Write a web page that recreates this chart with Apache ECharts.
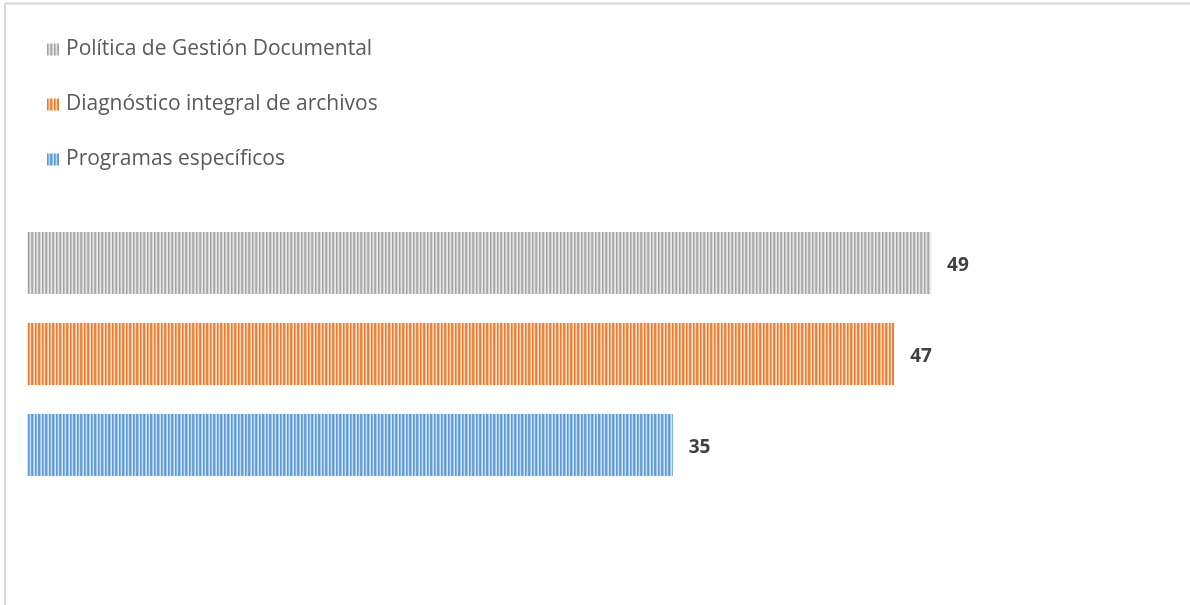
<!DOCTYPE html>
<html><head><meta charset="utf-8">
<script src="https://cdn.jsdelivr.net/npm/echarts@6/dist/echarts.min.js"></script>
<style>html,body{margin:0;padding:0;background:#fff}#c{width:1190px;height:605px}</style>
</head><body><div id="c"></div>
<script>
const seriesNames = ['Política de Gestión Documental', 'Diagnóstico integral de archivos', 'Programas específicos'];
const seriesValues = [49, 47, 35];
const category = [''];

function stripes(cols) {
  const c = document.createElement('canvas');
  c.width = cols.length; c.height = 4;
  const g = c.getContext('2d');
  cols.forEach((col, i) => { g.fillStyle = col; g.fillRect(i, 0, 1, 4); });
  return { image: c, repeat: 'repeat' };
}
const palettes = [
  ['#a3a3a3', '#c4c4c4', '#e4e4e4', '#b8b8b8', '#a8a8a8', '#d6d6d6', '#eaeaea'],
  ['#ec7a2c', '#f2a46e', '#fbd9c0', '#ef8c48', '#ec7d31', '#f6b98e', '#fde2cf'],
  ['#5a99d3', '#86b4e0', '#c6dcf2', '#6ea6d9', '#5b9bd5', '#a3c6ea', '#d3e5f6']
];
const patterns = palettes.map(stripes);

const chart = echarts.init(document.getElementById('c'));
chart.setOption({
  animation: false,
  backgroundColor: '#fff',
  graphic: [
    { type: 'line', shape: { x1: 5, y1: 3.5, x2: 1190, y2: 3.5 }, style: { stroke: '#d9d9d9', lineWidth: 2 } },
    { type: 'line', shape: { x1: 5, y1: 3, x2: 5, y2: 605 }, style: { stroke: '#d9d9d9', lineWidth: 2 } }
  ],
  legend: {
    orient: 'vertical', left: 42, top: 34, itemGap: 34,
    itemWidth: 12, itemHeight: 12, icon: 'rect',
    textStyle: { fontFamily: 'Open Sans', fontSize: 21, lineHeight: 21, color: '#595959', padding: [0, 0, 0, 2] },
    data: seriesNames
  },
  grid: { left: 27, right: 56, top: 200, height: 308 },
  xAxis: { type: 'value', min: 0, max: 60, show: false },
  yAxis: { type: 'category', data: category, inverse: true, show: false },
  series: seriesNames.map((n, i) => ({
    type: 'bar', name: n, data: [seriesValues[i]],
    barWidth: 62, barGap: '46.8%',
    itemStyle: { color: patterns[i] },
    label: { show: true, position: 'right', distance: 16, offset: [0, 3], fontFamily: 'Open Sans', fontWeight: 'bold', fontSize: 19, color: '#404040' }
  }))
});
</script></body></html>
